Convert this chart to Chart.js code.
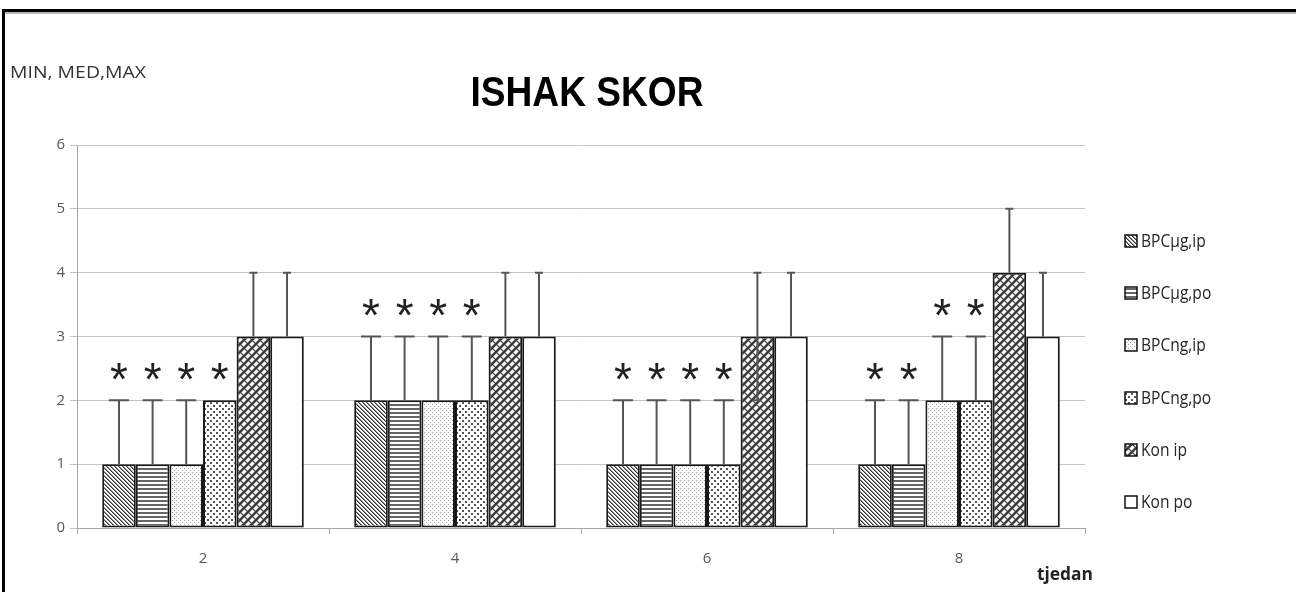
<!DOCTYPE html>
<html>
<head>
<meta charset="utf-8">
<script src="https://cdn.jsdelivr.net/npm/chart.js@4"></script>
<style>
  html, body { margin: 0; padding: 0; background: #fff; overflow: hidden; }
  #wrap { position: relative; width: 1296px; height: 592px; }
  #frame { position: absolute; left: 2px; top: 9px; width: 1400px; height: 700px;
           border-left: 3px solid #000; border-top: 3px solid #000; }
  #shade { position: absolute; left: 5px; top: 12px; width: 1400px; height: 2px; background: #b8b8b8; }
  #chartBox { position: absolute; left: 0; top: 0; width: 1296px; height: 592px; }
</style>
</head>
<body>
<div id="wrap">
  <div id="frame"></div>
  <div id="shade"></div>
  <div id="chartBox"><canvas id="ishakChart"></canvas></div>
</div>
<script>
// weeks (tjedan)
const weeks = ['2', '4', '6', '8'];

// median values
const medUgIp = [1, 2, 1, 1];
const medUgPo = [1, 2, 1, 1];
const medNgIp = [1, 2, 1, 2];
const medNgPo = [2, 2, 1, 2];
const medKonIp = [3, 3, 3, 4];
const medKonPo = [3, 3, 3, 3];

// max values
const maxUgIp = [2, 3, 2, 2];
const maxUgPo = [2, 3, 2, 2];
const maxNgIp = [2, 3, 2, 3];
const maxNgPo = [2, 3, 2, 3];
const maxKonIp = [4, 4, 4, 5];
const maxKonPo = [4, 4, 4, 4];

// min values
const minUgIp = [1, 2, 1, 1];
const minUgPo = [1, 2, 1, 1];
const minNgIp = [1, 2, 1, 2];
const minNgPo = [2, 2, 1, 2];
const minKonIp = [3, 3, 2, 4];
const minKonPo = [3, 3, 3, 3];

// significance marks
const starUgIp = [true, true, true, true];
const starUgPo = [true, true, true, true];
const starNgIp = [true, true, true, true];
const starNgPo = [true, true, true, true];
const starKonIp = [false, false, false, false];
const starKonPo = [false, false, false, false];

const yTicks = [0, 1, 2, 3, 4, 5, 6];

function makePattern(w, h, draw) {
    const c = document.createElement('canvas');
    c.width = w; c.height = h;
    const g = c.getContext('2d');
    g.fillStyle = '#fff';
    g.fillRect(0, 0, w, h);
    draw(g);
    return document.createElement('canvas').getContext('2d').createPattern(c, 'repeat');
}

const patDiag = makePattern(4, 4, g => {
    for (let i = 0; i < 4; i++) {
        g.fillStyle = '#333'; g.fillRect(i, i, 1, 1);
        g.fillStyle = '#8a8a8a'; g.fillRect((i + 1) % 4, i, 1, 1);
    }
});
const patHoriz = makePattern(4, 4, g => {
    g.fillStyle = '#666'; g.fillRect(0, 0, 4, 2);
});
const patFineDots = makePattern(4, 4, g => {
    g.fillStyle = '#9a9a9a';
    g.fillRect(0, 0, 1, 1); g.fillRect(2, 2, 1, 1);
});
const patDots = makePattern(6, 6, g => {
    g.fillStyle = '#555';
    g.fillRect(0, 0, 2, 2); g.fillRect(3, 3, 2, 2);
});
const patWave = makePattern(8, 8, g => {
    g.strokeStyle = '#3a3a3a';
    g.lineWidth = 2.4;
    g.beginPath();
    g.moveTo(-2, 10); g.lineTo(10, -2);
    g.moveTo(-6, 6); g.lineTo(6, -6);
    g.moveTo(2, 14); g.lineTo(14, 2);
    g.stroke();
    g.lineWidth = 1.2;
    g.beginPath();
    g.moveTo(-2, -2); g.lineTo(10, 10);
    g.moveTo(-6, 2); g.lineTo(6, 14);
    g.moveTo(2, -6); g.lineTo(14, 6);
    g.stroke();
});

function ds(label, med, max, min, star, fill, cap) {
    return {
        label: label, data: med, maxVals: max, minVals: min, stars: star, capW: cap,
        backgroundColor: fill, borderColor: '#1a1a1a', borderWidth: 2, borderSkipped: false
    };
}

const datasets = [
    ds('BPCµg,ip', medUgIp, maxUgIp, minUgIp, starUgIp, patDiag, 20),
    ds('BPCµg,po', medUgPo, maxUgPo, minUgPo, starUgPo, patHoriz, 20),
    ds('BPCng,ip', medNgIp, maxNgIp, minNgIp, starNgIp, patFineDots, 20),
    ds('BPCng,po', medNgPo, maxNgPo, minNgPo, starNgPo, patDots, 20),
    ds('Kon ip', medKonIp, maxKonIp, minKonIp, starKonIp, patWave, 8),
    ds('Kon po', medKonPo, maxKonPo, minKonPo, starKonPo, '#fff', 8)
];

// draw text squeezed horizontally (narrow Calibri look)
function narrowText(ctx, txt, x, y, sx, align) {
    ctx.save();
    ctx.translate(x, y);
    ctx.scale(sx, 1);
    ctx.textAlign = align || 'left';
    ctx.fillText(txt, 0, 0);
    ctx.restore();
}

const extras = {
    id: 'extras',
    afterDatasetsDraw(chart) {
        const ctx = chart.ctx;
        const ys = chart.scales.y;
        ctx.save();
        chart.data.datasets.forEach((d, di) => {
            const meta = chart.getDatasetMeta(di);
            meta.data.forEach((bar, i) => {
                const x = bar.x;
                const yMed = ys.getPixelForValue(d.data[i]);
                const yMax = ys.getPixelForValue(d.maxVals[i]);
                const yMin = ys.getPixelForValue(d.minVals[i]);
                ctx.strokeStyle = '#555';
                ctx.lineWidth = 2;
                if (d.maxVals[i] > d.data[i]) {
                    ctx.beginPath();
                    ctx.moveTo(x, yMed); ctx.lineTo(x, yMax);
                    ctx.moveTo(x - d.capW / 2, yMax); ctx.lineTo(x + d.capW / 2, yMax);
                    ctx.stroke();
                }
                if (d.minVals[i] < d.data[i]) {
                    ctx.beginPath();
                    ctx.moveTo(x, yMed); ctx.lineTo(x, yMin);
                    ctx.moveTo(x - d.capW / 2, yMin); ctx.lineTo(x + d.capW / 2, yMin);
                    ctx.stroke();
                }
                if (d.stars[i]) {
                    ctx.fillStyle = '#222';
                    ctx.font = '46px "Liberation Sans", Arial, sans-serif';
                    ctx.textAlign = 'center';
                    ctx.textBaseline = 'alphabetic';
                    const m = ctx.measureText('*');
                    const cy = yMax - 29;
                    const base = cy + (m.actualBoundingBoxAscent - m.actualBoundingBoxDescent) / 2;
                    ctx.fillText('*', x, base);
                }
            });
        });

        // title and axis captions
        ctx.fillStyle = '#000';
        ctx.textBaseline = 'alphabetic';
        ctx.font = 'bold 42px "Liberation Sans", Arial, sans-serif';
        const tw = ctx.measureText('ISHAK SKOR').width;
        narrowText(ctx, 'ISHAK SKOR', 587, 106, 233 / tw, 'center');

        ctx.fillStyle = '#333';
        ctx.font = '17px "Open Sans", sans-serif';
        const mw = ctx.measureText('MIN, MED,MAX').width;
        narrowText(ctx, 'MIN, MED,MAX', 10, 78, 136 / mw, 'left');

        ctx.fillStyle = '#222';
        ctx.font = 'bold 17px "Open Sans", sans-serif';
        const jw = ctx.measureText('tjedan').width;
        narrowText(ctx, 'tjedan', 1037, 580, 56 / jw, 'left');

        // legend
        const legY = [241, 293, 345, 398, 450, 502];
        chart.data.datasets.forEach((d, di) => {
            const y = legY[di];
            ctx.fillStyle = d.backgroundColor;
            ctx.fillRect(1125, y - 6, 12, 12);
            ctx.strokeStyle = '#111';
            ctx.lineWidth = 1.5;
            ctx.strokeRect(1125, y - 6, 12, 12);
            ctx.fillStyle = '#262626';
            ctx.font = '19px "Open Sans", sans-serif';
            ctx.textBaseline = 'middle';
            narrowText(ctx, d.label, 1141, y + 1, 0.82, 'left');
        });
        ctx.restore();
    }
};

new Chart(document.getElementById('ishakChart').getContext('2d'), {
    type: 'bar',
    data: { labels: weeks, datasets: datasets },
    plugins: [extras],
    options: {
        responsive: true,
        maintainAspectRatio: false,
        animation: false,
        layout: { padding: { top: 145, right: 211, left: 0, bottom: 0 } },
        datasets: { bar: { barPercentage: 1.0, categoryPercentage: 0.8 } },
        plugins: { legend: { display: false }, tooltip: { enabled: false } },
        scales: {
            x: {
                afterFit: s => { s.height = 64; },
                grid: { offset: true, drawOnChartArea: false, tickLength: 6, color: '#a6a6a6' },
                border: { color: '#a6a6a6', width: 1 },
                ticks: { color: '#595959', padding: 16, font: { family: '"Open Sans", sans-serif', size: 15 } }
            },
            y: {
                min: 0, max: 6,
                afterFit: s => { s.width = 77; },
                afterBuildTicks: s => { s.ticks = yTicks.map(v => ({ value: v })); },
                grid: { color: '#c4c4c4', tickLength: 7 },
                border: { color: '#a6a6a6', width: 1 },
                ticks: { color: '#595959', padding: 5, font: { family: '"Open Sans", sans-serif', size: 15 } }
            }
        }
    }
});
</script>
</body>
</html>
